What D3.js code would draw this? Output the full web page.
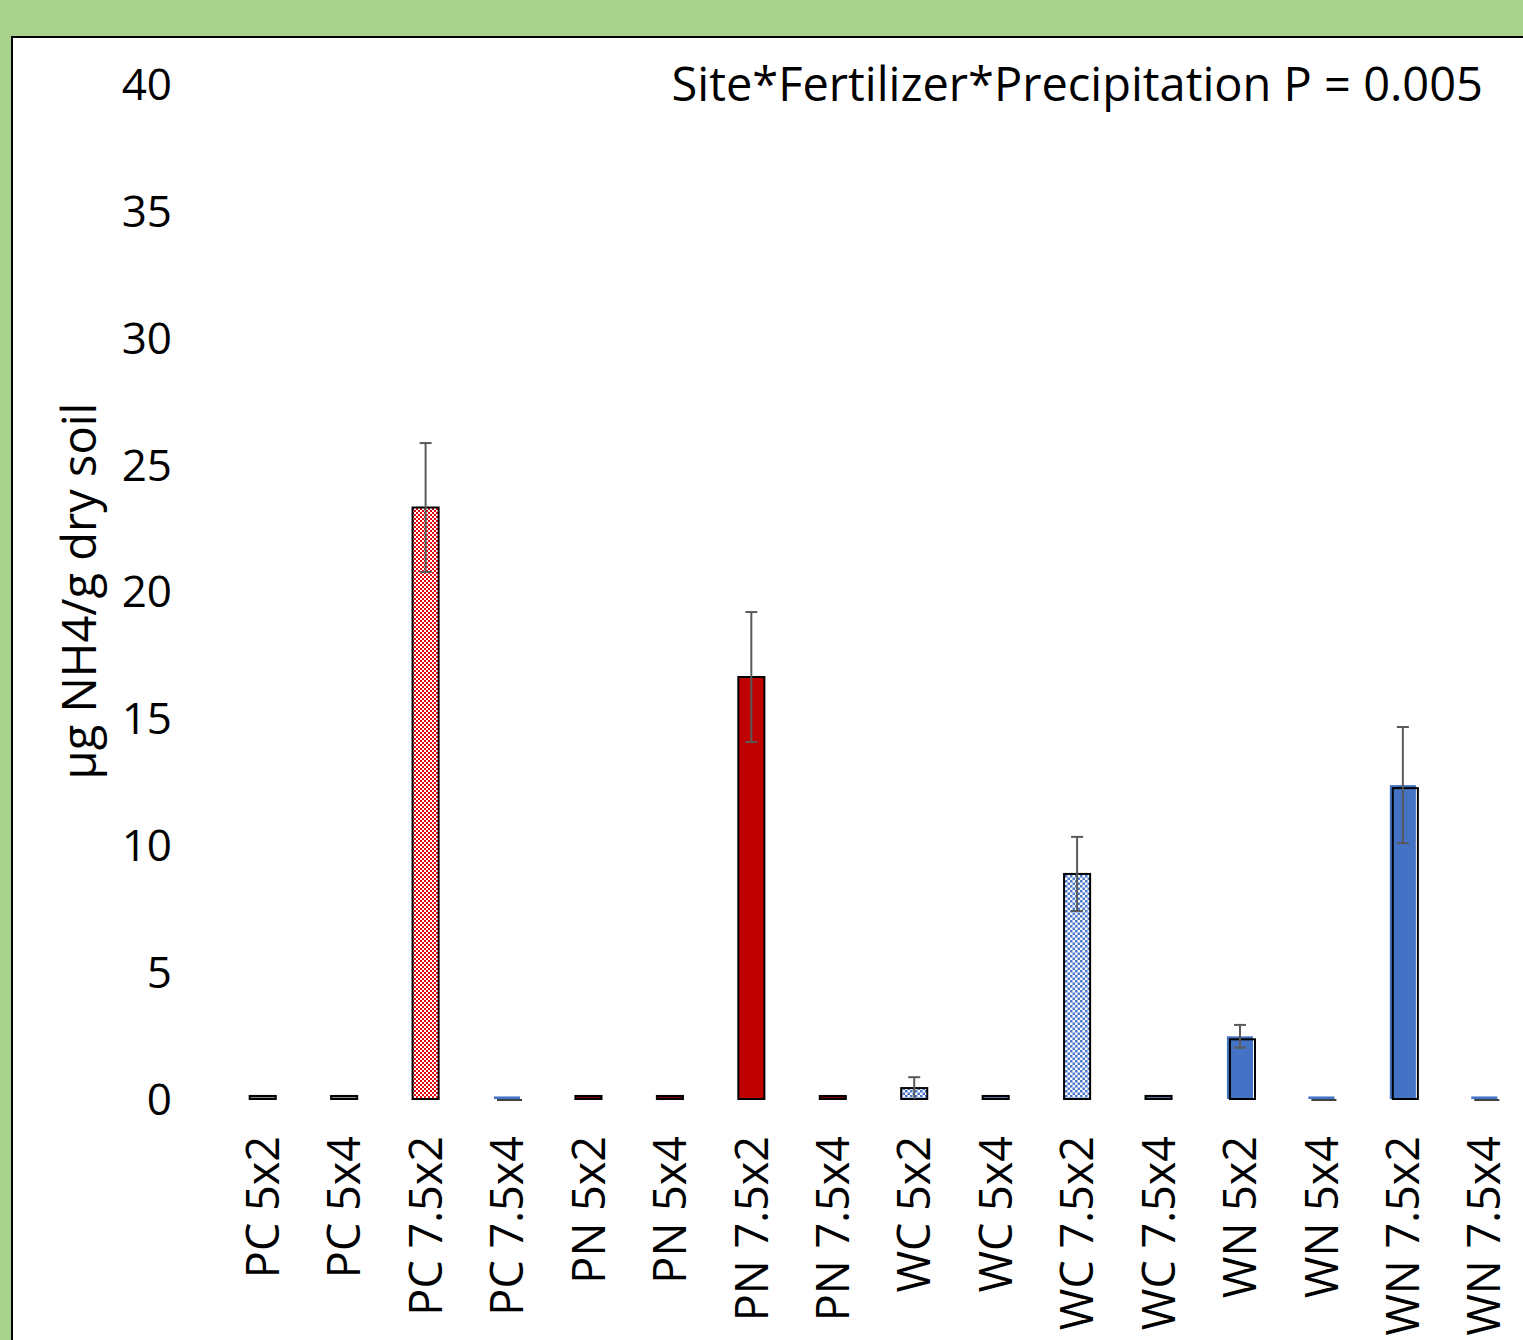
<!DOCTYPE html>
<html>
<head>
<meta charset="utf-8">
<script src="https://cdn.jsdelivr.net/npm/d3@7"></script>
<style>
  html, body { margin: 0; padding: 0; background: #A9D18E; }
  svg { display: block; }
  text { font-family: "Open Sans", Lato, sans-serif; fill: #000; }
</style>
</head>
<body>
<svg id="chart" width="1523" height="1340"></svg>
<script>
// Treatment combinations (site + fertilizer, precipitation x frequency)
const categories = [
  "PC 5x2", "PC 5x4", "PC 7.5x2", "PC 7.5x4",
  "PN 5x2", "PN 5x4", "PN 7.5x2", "PN 7.5x4",
  "WC 5x2", "WC 5x4", "WC 7.5x2", "WC 7.5x4",
  "WN 5x2", "WN 5x4", "WN 7.5x2", "WN 7.5x4"
];
// Mean NH4 (µg / g dry soil)
const means = [
  0.12, 0.12, 23.31, 0.1,
  0.12, 0.12, 16.63, 0.12,
  0.43, 0.12, 8.87, 0.12,
  2.47, 0.1, 12.37, 0.1
];
// Standard errors
const errors = [
  0, 0, 2.54, 0,
  0, 0, 2.56, 0,
  0.43, 0, 1.46, 0,
  0.45, 0, 2.29, 0
];
const yTicks = [0, 5, 10, 15, 20, 25, 30, 35, 40];
const statLabel = "Site*Fertilizer*Precipitation P = 0.005";
const yTitle = "µg NH4/g dry soil";

// Fill style per bar
const barStyle = [
  "grey", "grey", "redCheck", "blueShift",
  "darkRed", "darkRed", "red", "darkRed",
  "blueCheck", "blueThin", "blueCheck", "blueThin",
  "blueShift", "blueShift", "blueShift", "blueShift"
];

const svg = d3.select("#chart");
const defs = svg.append("defs");

function checker(id, color, cell) {
  const p = defs.append("pattern")
    .attr("id", id)
    .attr("patternUnits", "userSpaceOnUse")
    .attr("width", cell * 2).attr("height", cell * 2);
  p.append("rect").attr("width", cell * 2).attr("height", cell * 2).attr("fill", "#fff");
  p.append("rect").attr("width", cell).attr("height", cell).attr("fill", color);
  p.append("rect").attr("x", cell).attr("y", cell).attr("width", cell).attr("height", cell).attr("fill", color);
}
checker("redCheck", "#E00010", 2);
checker("blueCheck", "#4A78CC", 2.5);

// White plot panel
svg.append("rect")
  .attr("x", 12).attr("y", 37)
  .attr("width", 1600).attr("height", 1400)
  .attr("fill", "#fff")
  .attr("stroke", "#000")
  .attr("stroke-width", 2);

const x = d3.scaleBand()
  .domain(categories)
  .range([222, 1525])
  .paddingInner(0.68)
  .paddingOuter(0.34);

const y = d3.scaleLinear().domain([0, 40]).range([1099, 84]);

// Y axis labels
const yAxis = d3.axisLeft(y).tickValues(yTicks).tickSize(0).tickPadding(0);
const gy = svg.append("g").attr("transform", "translate(172,0)").call(yAxis);
gy.select(".domain").remove();
gy.selectAll("text")
  .attr("font-size", 44)
  .attr("font-family", "'Open Sans', sans-serif")
  .attr("dy", "0.35em");

// X axis labels, rotated
const xAxis = d3.axisBottom(x).tickSize(0).tickPadding(0);
const gx = svg.append("g").attr("transform", "translate(0,1136)").call(xAxis);
gx.select(".domain").remove();
gx.selectAll("text")
  .attr("font-size", 45)
  .attr("font-family", "'Open Sans', sans-serif")
  .attr("text-anchor", "end")
  .attr("transform", "rotate(-90)")
  .attr("x", 0)
  .attr("y", 0)
  .attr("dy", "0.36em");

// Bars
const data = categories.map((c, i) => ({ c, v: means[i], e: errors[i], s: barStyle[i] }));
const bw = x.bandwidth();
const bars = svg.append("g");

data.forEach(d => {
  const x0 = x(d.c), y0 = y(d.v), h = y(0) - y(d.v);
  if (d.s === "blueShift") {
    bars.append("rect")
      .attr("x", x0).attr("y", y0).attr("width", bw).attr("height", h)
      .attr("fill", "#4472C4");
    if (h > 4) {
      bars.append("rect")
        .attr("x", x0 + 3).attr("y", y0 + 3).attr("width", bw - 1).attr("height", h - 3)
        .attr("fill", "none").attr("stroke", "#000").attr("stroke-width", 2);
    } else {
      bars.append("line")
        .attr("x1", x0 + 3).attr("x2", x0 + bw + 2)
        .attr("y1", y(0) + 1).attr("y2", y(0) + 1)
        .attr("stroke", "#000").attr("stroke-width", 1.5);
    }
  } else {
    const fill = {
      grey: "#8a8a8a",
      redCheck: "url(#redCheck)",
      darkRed: "#7a0000",
      red: "#C00000",
      blueCheck: "url(#blueCheck)",
      blueThin: "#5a6f99"
    }[d.s];
    bars.append("rect")
      .attr("x", x0).attr("y", y0).attr("width", bw).attr("height", h)
      .attr("fill", fill)
      .attr("stroke", "#000").attr("stroke-width", 2);
  }
});

// Error bars
const eb = svg.append("g").attr("stroke", "#595959").attr("stroke-width", 2);
data.filter(d => d.e > 0).forEach(d => {
  const cx = x(d.c) + bw / 2;
  const lo = Math.max(d.v - d.e, 0);
  eb.append("line").attr("x1", cx).attr("x2", cx).attr("y1", y(d.v + d.e)).attr("y2", y(lo));
  eb.append("line").attr("x1", cx - 6).attr("x2", cx + 6).attr("y1", y(d.v + d.e)).attr("y2", y(d.v + d.e));
  if (d.v - d.e > 0.01) {
    eb.append("line").attr("x1", cx - 6).attr("x2", cx + 6).attr("y1", y(lo)).attr("y2", y(lo));
  }
});

// Statistics annotation
svg.append("text")
  .attr("x", 1483).attr("y", 101)
  .attr("text-anchor", "end")
  .attr("font-size", 47)
  .text(statLabel);

// Y axis title
svg.append("text")
  .attr("transform", "translate(96,591) rotate(-90)")
  .attr("text-anchor", "middle")
  .attr("font-size", 47)
  .text(yTitle);
</script>
</body>
</html>
